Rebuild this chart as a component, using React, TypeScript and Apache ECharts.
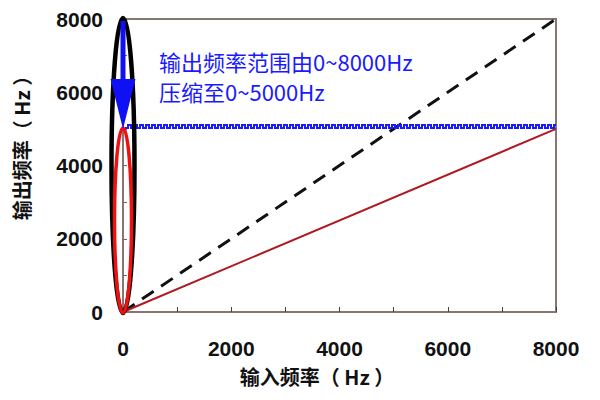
import { useEffect, useRef } from "react";
import * as echarts from "echarts";

const inputHz = [0, 8000];
const outputUncompressed = [0, 8000];
const outputCompressed = [0, 5000];
const ceilingHz = 5000;
const originalRange = [0, 8000];
const compressedRange = [0, 5000];
const annotation = ["输出频率范围由0~8000Hz", "压缩至0~5000Hz"];
const xName = "输入频率（ Hz ）";
const yName = "输出频率（ Hz ）";

const FRAME = "#8a7670";
const LABEL_FONT = "'Liberation Sans', Arial, 'Noto Sans CJK SC', sans-serif";
const CJK_FONT = "'Noto Sans CJK SC', 'Liberation Sans', sans-serif";

export default function App() {
  const ref = useRef<HTMLDivElement>(null);
  useEffect(() => {
    const chart = echarts.init(ref.current!, null, { renderer: "svg" });

    const ellipseSeries = (range: number[], rx: number, color: string, lw: number, z: number) => ({
      type: "custom",
      z,
      silent: true,
      clip: false,
      data: [[0, range[0], range[1]]],
      renderItem: (_p: any, api: any) => {
        const top = api.coord([api.value(0), api.value(2)]);
        const bot = api.coord([api.value(0), api.value(1)]);
        return {
          type: "ellipse",
          shape: { cx: top[0], cy: (top[1] + bot[1]) / 2, rx, ry: (bot[1] - top[1]) / 2 + 1 },
          style: { fill: "none", stroke: color, lineWidth: lw },
        };
      },
    });

    const arrowSeries = {
      type: "custom",
      z: 12,
      silent: true,
      clip: false,
      data: [[0, originalRange[1], compressedRange[1]]],
      renderItem: (_p: any, api: any) => {
        const from = api.coord([api.value(0), api.value(1)]);
        const to = api.coord([api.value(0), api.value(2)]);
        const headLen = 50;
        const headHalf = 12.5;
        const cx = from[0];
        return {
          type: "group",
          children: [
            {
              type: "rect",
              shape: { x: cx - 2.5, y: from[1] + 2, width: 5, height: to[1] - headLen - from[1] },
              style: { fill: "#1010f5" },
            },
            {
              type: "polygon",
              shape: { points: [[cx - headHalf, to[1] - headLen], [cx + headHalf, to[1] - headLen], [cx, to[1]]] },
              style: { fill: "#1010f5" },
            },
          ],
        };
      },
    };

    const waveSeries = {
      type: "custom",
      z: 9,
      silent: true,
      clip: false,
      data: [[inputHz[0], inputHz[1], ceilingHz]],
      renderItem: (_p: any, api: any) => {
        const a = api.coord([api.value(0), api.value(2)]);
        const b = api.coord([api.value(1), api.value(2)]);
        const yLow = a[1] - 1;
        const yHigh = a[1] - 4;
        const pts: number[][] = [];
        let x = a[0] + 2;
        let high = false;
        pts.push([x, yLow]);
        while (x < b[0]) {
          const nx = Math.min(x + 3, b[0]);
          const y = high ? yHigh : yLow;
          pts.push([nx, y]);
          if (nx < b[0]) {
            high = !high;
            pts.push([nx, high ? yHigh : yLow]);
          }
          x = nx;
        }
        return {
          type: "polyline",
          shape: { points: pts },
          style: { fill: "none", stroke: "#1a1aff", lineWidth: 2 },
        };
      },
    };

    chart.setOption({
      animation: false,
      backgroundColor: "#ffffff",
      grid: {
        left: 123,
        right: 44,
        top: 19,
        bottom: 88,
        show: true,
        borderColor: FRAME,
        borderWidth: 2,
        backgroundColor: "transparent",
      },
      xAxis: {
        type: "value",
        min: 0,
        max: 8000,
        interval: 2000,
        name: xName,
        nameLocation: "middle",
        nameGap: 54,
        nameTextStyle: {
          fontFamily: CJK_FONT,
          fontWeight: "bold",
          fontSize: 20,
          color: "#111",
          padding: [0, 45, 0, 0],
        },
        axisLine: { show: true, lineStyle: { color: FRAME, width: 2 } },
        axisTick: { show: true, inside: true, length: 5, lineStyle: { color: "#444" } },
        minorTick: { show: true, splitNumber: 2, length: 5, lineStyle: { color: "#444" } },
        splitLine: { show: false },
        axisLabel: {
          margin: 26,
          formatter: (v: number) => String(v),
          fontFamily: LABEL_FONT,
          fontWeight: "bold",
          fontSize: 21,
          color: "#111",
        },
      },
      yAxis: {
        type: "value",
        min: 0,
        max: 8000,
        interval: 2000,
        axisLine: { show: true, lineStyle: { color: FRAME, width: 2 } },
        axisTick: { show: true, inside: true, length: 4, lineStyle: { color: "#666" } },
        minorTick: { show: true, splitNumber: 2, length: 4, lineStyle: { color: "#666" } },
        splitLine: { show: false },
        axisLabel: {
          margin: 20,
          formatter: (v: number) => String(v),
          fontFamily: LABEL_FONT,
          fontWeight: "bold",
          fontSize: 21,
          color: "#111",
        },
      },
      series: [
        {
          name: "原始",
          type: "line",
          z: 5,
          symbol: "none",
          data: inputHz.map((x, i) => [x, outputUncompressed[i]]),
          lineStyle: { color: "#111", width: 3, type: [14, 9] },
        },
        {
          name: "压缩",
          type: "line",
          z: 6,
          symbol: "none",
          data: inputHz.map((x, i) => [x, outputCompressed[i]]),
          lineStyle: { color: "#b01822", width: 2 },
        },
        waveSeries,
        ellipseSeries(originalRange, 11.5, "#000000", 4.5, 10),
        ellipseSeries(compressedRange, 8.5, "#f01010", 3.5, 11),
        arrowSeries,
      ],
      graphic: [
        {
          type: "text",
          x: 21,
          y: 143,
          rotation: Math.PI / 2,
          style: {
            text: yName,
            fontFamily: CJK_FONT,
            fontWeight: "bold",
            fontSize: 20,
            fill: "#111",
            textAlign: "center",
            textVerticalAlign: "middle",
          },
        },
        ...annotation.map((line, i) => ({
          type: "text",
          x: 159,
          y: 61 + i * 30,
          style: {
            text: line,
            fontFamily: CJK_FONT,
            fontSize: 22,
            fill: "#1a1aff",
            textAlign: "left",
            textVerticalAlign: "middle",
          },
        })),
      ],
    });
    return () => chart.dispose();
  }, []);
  return <div ref={ref} style={{ position: "fixed", left: 0, top: 0, width: 600, height: 400 }} />;
}
